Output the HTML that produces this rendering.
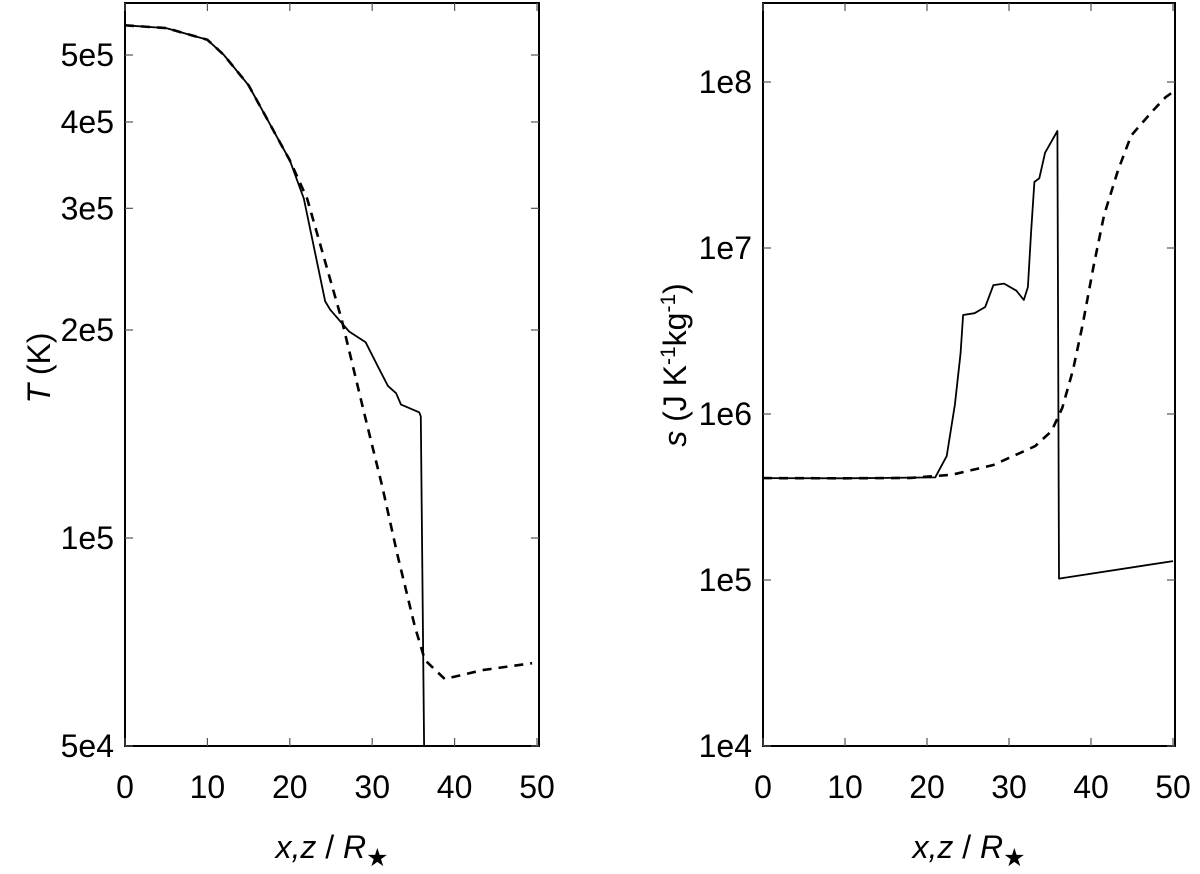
<!DOCTYPE html>
<html><head><meta charset="utf-8"><style>
html,body{margin:0;padding:0;background:#fff;}
svg{display:block;font-family:"Liberation Sans",sans-serif;}
</style></head><body>
<svg id="chart" width="1200" height="874" viewBox="0 0 1200 874" xmlns="http://www.w3.org/2000/svg"></svg>
<script>
// Left panel: temperature
const tX_solid = [0,5,10,12,15,18,20,21.7,24.3,24.9,27.2,29.2,30.7,31.9,32.9,33.5,35.7,35.9,36.3];
const tY_solid = [5.52e5,5.47e5,5.26e5,5.0e5,4.52e5,3.89e5,3.52e5,3.10e5,2.20e5,2.14e5,1.99e5,1.92e5,1.77e5,1.66e5,1.62e5,1.56e5,1.52e5,1.50e5,5.0e4];
const tX_dash = [0,5,10,12,15,18,20,22.1,26.3,29.0,31.2,33.1,35.2,36.4,38.8,43.4,49.4];
const tY_dash = [5.52e5,5.47e5,5.26e5,5.0e5,4.52e5,3.89e5,3.52e5,3.10e5,2.07e5,1.52e5,1.19e5,9.42e4,7.43e4,6.66e4,6.25e4,6.44e4,6.59e4];
const tTicks = [5e4,1e5,2e5,3e5,4e5,5e5];
const tTickLabels = ["5e4","1e5","2e5","3e5","4e5","5e5"];
// Right panel: entropy
const sX_solid = [0,10,21.0,22.4,23.4,24.1,24.4,25.8,27.1,28.1,29.4,30.9,31.8,32.3,32.7,33.1,33.7,34.4,35.9,36.1,50];
const sY_solid = [4.11e5,4.1e5,4.15e5,5.58e5,1.14e6,2.33e6,3.95e6,4.05e6,4.41e6,5.98e6,6.1e6,5.53e6,4.86e6,5.82e6,1.25e7,2.50e7,2.63e7,3.75e7,5.07e7,1.02e5,1.30e5];
const sX_dash = [0,10,18,23.0,28.1,33.2,35.2,36.5,37.8,39.0,40.3,41.6,43.3,44.9,47.5,49.1,50];
const sY_dash = [4.11e5,4.1e5,4.12e5,4.30e5,4.93e5,6.41e5,7.9e5,1.09e6,1.84e6,3.49e6,7.74e6,1.58e7,2.95e7,4.76e7,6.68e7,8.1e7,8.7e7];
const sTicks = [1e4,1e5,1e6,1e7,1e8];
const sTickLabels = ["1e4","1e5","1e6","1e7","1e8"];
const xTicks = [0,10,20,30,40,50];
const xTickLabels = ["0","10","20","30","40","50"];

const NS="http://www.w3.org/2000/svg";
const svg=document.getElementById('chart');
function mk(tag,attrs,parent){const e=document.createElementNS(NS,tag);for(const k in attrs)e.setAttribute(k,attrs[k]);(parent||svg).appendChild(e);return e;}

function panel(cfg){
  const g=mk('g',{});
  
  
  const sx=v=>cfg.x0+(v-0)/50*(cfg.x50-cfg.x0);
  const sy=v=>cfg.yRef-(Math.log10(v)-Math.log10(cfg.vRef))*cfg.pxDec;
  const clipId='clip-'+cfg.name;
  const cp=mk('clipPath',{id:clipId},g);
  mk('rect',{x:cfg.L,y:cfg.T,width:cfg.R-cfg.L,height:cfg.B-cfg.T},cp);
  const line=(xs,ys,dash,name)=>{
    let d='';xs.forEach((x,i)=>{d+=(i?'L':'M')+sx(x).toFixed(1)+','+sy(ys[i]).toFixed(1);});
    const p=mk('path',{d:d,fill:'none',stroke:'#000','stroke-width':dash?2.6:1.8,'stroke-dasharray':dash?'9,7':'none','clip-path':'url(#'+clipId+')','stroke-linejoin':'round'},g);
    
    
  };
  line(cfg.dx,cfg.dy,true,cfg.name+'-dashed-line');
  line(cfg.sxs,cfg.sys,false,cfg.name+'-solid-line');
  const fr=mk('rect',{x:cfg.L,y:cfg.T,width:cfg.R-cfg.L,height:cfg.B-cfg.T,fill:'none',stroke:'#000','stroke-width':2},g);
  
  
  xTicks.forEach((v,i)=>{
    const x=sx(v);
    mk('line',{x1:x,y1:cfg.B,x2:x,y2:cfg.B-8,stroke:'#555','stroke-width':1.2},g);
    mk('line',{x1:x,y1:cfg.T,x2:x,y2:cfg.T+8,stroke:'#555','stroke-width':1.2},g);
    const t=mk('text',{x:x,y:cfg.B+52,'font-size':32,'text-anchor':'middle'},g);
    t.textContent=xTickLabels[i];
    
    
  });
  cfg.ticks.forEach((v,i)=>{
    const y=sy(v);
    mk('line',{x1:cfg.L,y1:y,x2:cfg.L+8,y2:y,stroke:'#555','stroke-width':1.2},g);
    mk('line',{x1:cfg.R,y1:y,x2:cfg.R-8,y2:y,stroke:'#555','stroke-width':1.2},g);
    const t=mk('text',{x:cfg.L-11,y:y+11,'font-size':32,'text-anchor':'end'},g);
    t.textContent=cfg.labels[i];
    
    
  });
  const xt=mk('text',{x:(cfg.L+cfg.R)/2,y:858,'font-size':32,'text-anchor':'middle'},g);
  xt.innerHTML='<tspan font-style="italic">x,z</tspan> / <tspan font-style="italic">R</tspan><tspan font-size="25" dy="8">★</tspan>';
  
  
  const yt=mk('text',{x:0,y:0,'font-size':32,'text-anchor':'middle',transform:'translate('+cfg.ytx+','+cfg.yty+') rotate(-90)'},g);
  yt.innerHTML=cfg.ytitle;
  
  
}

panel({name:'temperature-panel',L:125,R:539,T:3,B:746,x0:125,x50:537,yRef:538,vRef:1e5,pxDec:691,
  dx:tX_dash,dy:tY_dash,sxs:tX_solid,sys:tY_solid,ticks:tTicks,labels:tTickLabels,
  ytx:50,yty:368,ytitle:'<tspan font-style="italic">T</tspan> (K)'});
panel({name:'entropy-panel',L:763,R:1175,T:3,B:746,x0:763,x50:1173,yRef:580,vRef:1e5,pxDec:166,
  dx:sX_dash,dy:sY_dash,sxs:sX_solid,sys:sY_solid,ticks:sTicks,labels:sTickLabels,
  ytx:686,yty:365,ytitle:'<tspan font-style="italic">s</tspan> (J K<tspan font-size="21" dy="-11">-1</tspan><tspan dy="11">kg</tspan><tspan font-size="21" dy="-11">-1</tspan><tspan dy="11">)</tspan>'});
</script>
</body></html>
